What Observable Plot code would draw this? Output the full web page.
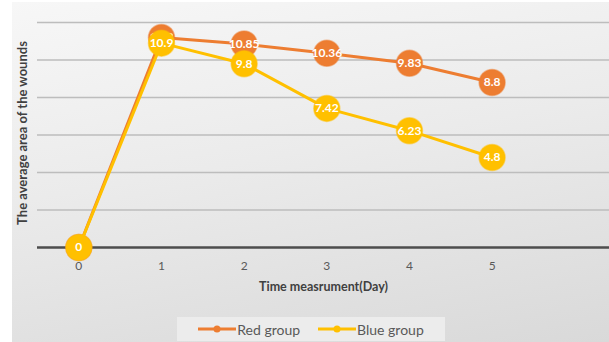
<!DOCTYPE html>
<html>
<head>
<meta charset="utf-8">
<script src="https://cdn.jsdelivr.net/npm/d3@7"></script>
<script src="https://cdn.jsdelivr.net/npm/@observablehq/plot@0.6"></script>
<style>
  html, body { margin: 0; padding: 0; background: #fff; }
  #wrap { position: relative; width: 609px; height: 342px; overflow: hidden; background: #fff; font-family: Lato, "Open Sans", sans-serif; }
  #bg { position: absolute; left: 12px; top: 2px; right: 0; bottom: 0;
        background: linear-gradient(170deg, #f7f7f7 0%, #ebebeb 45%, #d9d9d9 100%); }
  #chart { position: absolute; left: 0; top: 0; }
  #legend { position: absolute; left: 177px; top: 317px; width: 268px; height: 24px;
            background: #ececec; display: flex; align-items: center; justify-content: center;
            gap: 18px; font-size: 14px; color: #595959; }
  .item { display: flex; align-items: center; gap: 1px; }
</style>
</head>
<body>
<div id="wrap"><div id="bg"></div><div id="chart"></div><div id="legend"></div></div>
<script>
const days = [0, 1, 2, 3, 4, 5];
const redGroup = [0, 11.2, 10.85, 10.36, 9.83, 8.8];
const blueGroup = [0, 10.9, 9.8, 7.42, 6.23, 4.8];
const seriesNames = ["Red group", "Blue group"];
const seriesColors = ["#ED7D31", "#FFC000"];
const gridValues = [2, 4, 6, 8, 10, 12];

const rows = (vals, name) => days.map((d, i) => ({day: d, value: vals[i], series: name}));
const red = rows(redGroup, seriesNames[0]);
const blue = rows(blueGroup, seriesNames[1]);

const seriesMarks = (data, color) => [
  Plot.line(data, {x: "day", y: "value", stroke: color, strokeWidth: 3}),
  Plot.dot(data, {x: "day", y: "value", r: 13, fill: color, stroke: color, strokeOpacity: 0.5, strokeWidth: 1.5}),
  Plot.text(data, {x: "day", y: "value", text: d => String(d.value), fill: "white", fontWeight: "bold", fontSize: 12})
];

const chart = Plot.plot({
  width: 609,
  height: 312,
  marginLeft: 37,
  marginRight: 0,
  marginTop: 22,
  marginBottom: 65,
  style: {background: "transparent", fontFamily: "Lato, 'Open Sans', sans-serif", overflow: "visible"},
  x: {domain: [-0.5, 6.42], axis: null},
  y: {domain: [0, 12], axis: null},
  marks: [
    Plot.ruleY(gridValues, {stroke: "#bdbdbd", strokeWidth: 1.5}),
    Plot.ruleY([0], {stroke: "#4d4d4d", strokeWidth: 2.5}),
    Plot.axisX(days, {tickSize: 0, tickPadding: 14, fontSize: 12, fill: "#595959", label: null}),
    Plot.text(["Time measrument(Day)"], {frameAnchor: "bottom", dy: 43, fontWeight: "bold", fontSize: 12.5, fill: "#404040"}),
    Plot.text(["The average area of the wounds"], {frameAnchor: "left", textAnchor: "middle", dx: -15, dy: -2, rotate: -90, fontWeight: "bold", fontSize: 13, fill: "#404040"}),
    ...seriesMarks(red, seriesColors[0]),
    ...seriesMarks(blue, seriesColors[1])
  ]
});
document.getElementById("chart").appendChild(chart);

const legend = document.getElementById("legend");
seriesNames.forEach((name, i) => {
  const item = document.createElement("div");
  item.className = "item";
  item.innerHTML = `<svg width="38" height="10"><line x1="0" y1="5" x2="38" y2="5" stroke="${seriesColors[i]}" stroke-width="3"/><circle cx="19" cy="5" r="3.5" fill="${seriesColors[i]}"/></svg><span>${name}</span>`;
  legend.appendChild(item);
});
</script>
</body>
</html>
